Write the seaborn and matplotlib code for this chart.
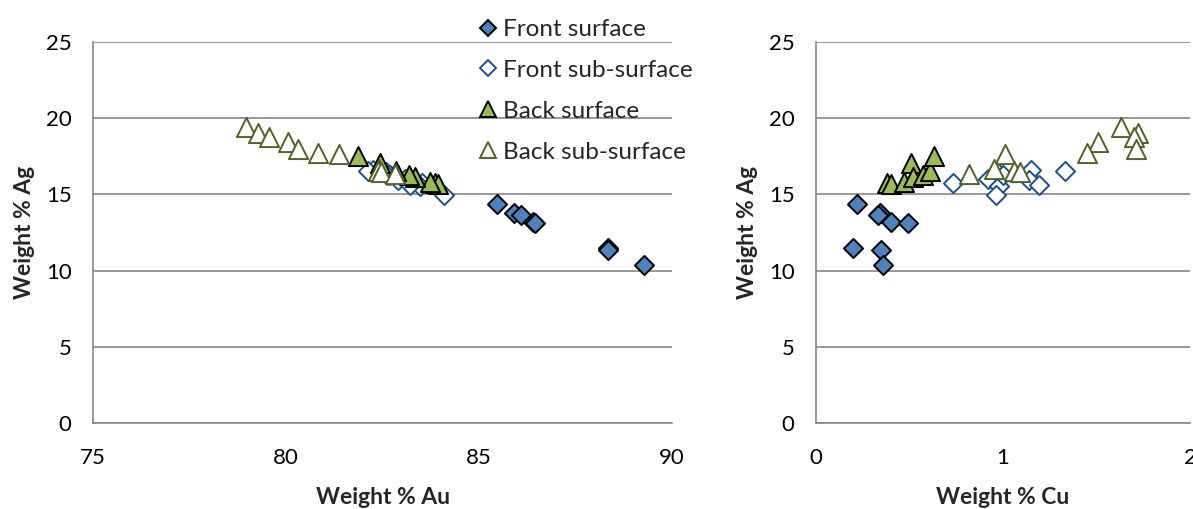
import matplotlib
matplotlib.use("Agg")
import matplotlib.pyplot as plt
import seaborn as sns
import pandas as pd
from matplotlib.lines import Line2D

sns.set_style("white")
plt.rcParams['font.family'] = ['Lato', 'DejaVu Sans']

# ---------------- data ----------------
series_names = ["Front surface", "Front sub-surface", "Back surface", "Back sub-surface"]

front_surface_au = [85.47, 85.90, 86.10, 86.40, 86.45, 88.35, 88.35, 89.27]
front_surface_cu = [0.22, 0.34, 0.33, 0.40, 0.49, 0.20, 0.35, 0.36]
front_surface_ag = [14.35, 13.80, 13.65, 13.20, 13.10, 11.50, 11.35, 10.40]

front_sub_au = [83.52, 83.08, 82.58, 83.47, 84.09, 82.70, 82.62, 82.25, 82.91, 83.21, 82.12]
front_sub_cu = [0.73, 0.92, 0.97, 0.98, 0.96, 1.00, 1.13, 1.15, 1.14, 1.19, 1.33]
front_sub_ag = [15.75, 16.00, 16.45, 15.55, 14.95, 16.30, 16.25, 16.60, 15.95, 15.60, 16.55]

back_surface_au = [83.87, 83.95, 83.73, 82.44, 83.33, 83.18, 82.84, 81.87]
back_surface_cu = [0.38, 0.40, 0.47, 0.51, 0.52, 0.57, 0.61, 0.63]
back_surface_ag = [15.75, 15.65, 15.80, 17.05, 16.15, 16.25, 16.55, 17.50]

back_sub_au = [78.97, 79.28, 79.55, 80.04, 80.31, 80.83, 81.37, 82.40, 82.39, 82.46, 82.83]
back_sub_cu = [1.63, 1.72, 1.70, 1.51, 1.71, 1.45, 1.01, 0.95, 1.06, 1.09, 0.82]
back_sub_ag = [19.40, 19.00, 18.75, 18.45, 17.98, 17.72, 17.62, 16.65, 16.55, 16.45, 16.35]

au_ticks = [75, 80, 85, 90]
cu_ticks = [0, 1, 2]
ag_ticks = [0, 5, 10, 15, 20, 25]

frames = []
for name, au, cu, ag in [
    (series_names[0], front_surface_au, front_surface_cu, front_surface_ag),
    (series_names[1], front_sub_au, front_sub_cu, front_sub_ag),
    (series_names[2], back_surface_au, back_surface_cu, back_surface_ag),
    (series_names[3], back_sub_au, back_sub_cu, back_sub_ag),
]:
    frames.append(pd.DataFrame({"series": name, "Au": au, "Cu": cu, "Ag": ag}))
df = pd.concat(frames, ignore_index=True)

# ---------------- styles ----------------
styles = {
    "Front surface":     dict(marker="D", face="#4F81BD", edge="#000000", s=95, lw=1.4, lms=8.5),
    "Front sub-surface": dict(marker="D", face="#FFFFFF", edge="#1F4E8C", s=95, lw=1.4, lms=8.5),
    "Back surface":      dict(marker="^", face="#9BBB59", edge="#000000", s=190, lw=1.4, lms=12),
    "Back sub-surface":  dict(marker="^", face="#FFFFFF", edge="#4F6228", s=190, lw=1.4, lms=12),
}

grid_col = "#868686"

W, H = 1193, 509
fig = plt.figure(figsize=(W / 100, H / 100), dpi=100)
ax1 = fig.add_axes([93 / W, (H - 423) / H, 579 / W, 381 / H])
ax2 = fig.add_axes([816 / W, (H - 423) / H, 374 / W, 381 / H])

for ax, xcol, xlim, xticks, xlabel in [
    (ax1, "Au", (75, 90), au_ticks, "Weight % Au"),
    (ax2, "Cu", (0, 2), cu_ticks, "Weight % Cu"),
]:
    for name in series_names:
        st = styles[name]
        sub = df[df["series"] == name]
        sns.scatterplot(data=sub, x=xcol, y="Ag", ax=ax, marker=st["marker"],
                        color=st["face"], edgecolor=st["edge"], s=st["s"],
                        linewidth=st["lw"], clip_on=False, zorder=3, legend=False)
    ax.set_xlim(*xlim)
    ax.set_ylim(0, 25)
    ax.set_xticks(xticks)
    ax.set_yticks(ag_ticks)
    ax.yaxis.grid(True, color=grid_col, linewidth=1.2)
    ax.xaxis.grid(False)
    ax.set_axisbelow(True)
    for sp in ["top", "right"]:
        ax.spines[sp].set_visible(False)
    for sp in ["left", "bottom"]:
        ax.spines[sp].set_color(grid_col)
        ax.spines[sp].set_linewidth(1.2)
    ax.tick_params(axis="x", direction="out", length=6, width=1.0, color=grid_col,
                   pad=12, labelsize=16, labelcolor="black")
    ax.tick_params(axis="y", direction="out", length=4.5, width=1.0, color=grid_col,
                   pad=11, labelsize=16, labelcolor="black")
    ax.set_xlabel(xlabel, fontsize=16.5, fontweight="bold", labelpad=14)
    ax.set_ylabel("Weight % Ag", fontsize=16.5, fontweight="bold", labelpad=8)

handles = []
for name in series_names:
    st = styles[name]
    handles.append(Line2D([0], [0], linestyle="none", marker=st["marker"],
                          markerfacecolor=st["face"], markeredgecolor=st["edge"],
                          markersize=st["lms"], markeredgewidth=1.4))
fig.legend(handles, series_names, loc="upper left", bbox_to_anchor=(479 / W, 1 - 19 / H),
           frameon=False, fontsize=17.5, handlelength=0.7, handletextpad=0.3,
           labelspacing=0.82, borderpad=0, borderaxespad=0)

fig.savefig("out.png", dpi=100)
